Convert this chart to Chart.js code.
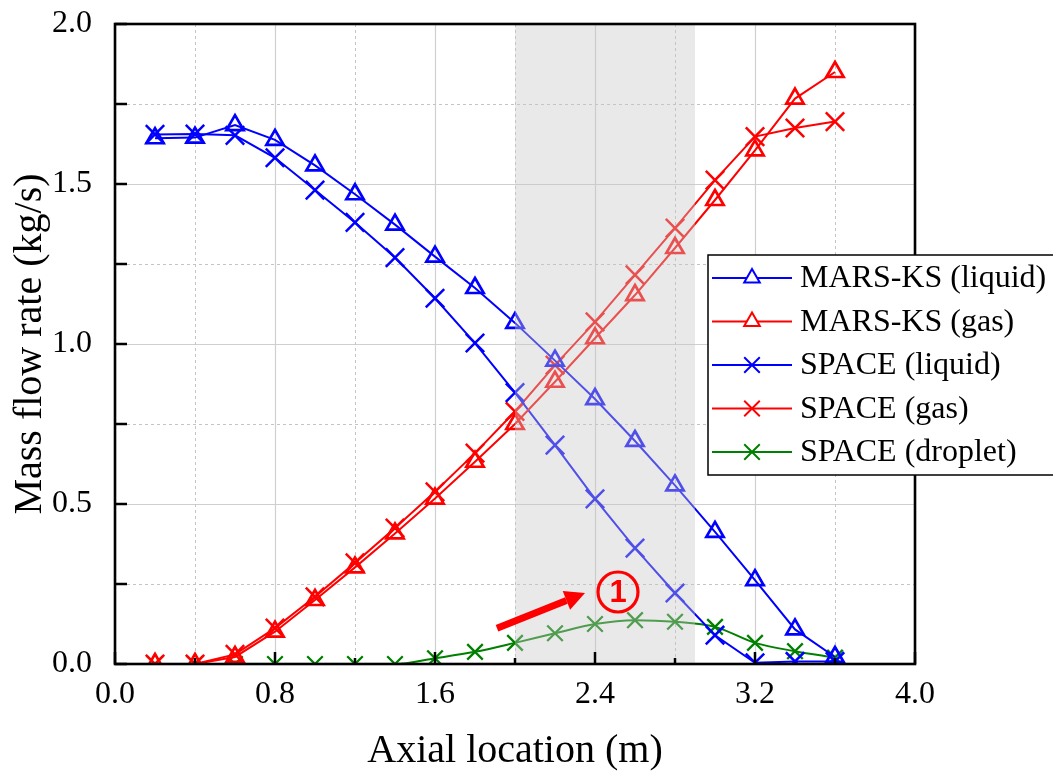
<!DOCTYPE html>
<html>
<head>
<meta charset="utf-8">
<script src="https://cdn.jsdelivr.net/npm/chart.js@4.4.1/dist/chart.umd.min.js"></script>
<style>
  html, body { margin: 0; padding: 0; background: #fff; }
</style>
</head>
<body>
<canvas id="flowChart" width="1053" height="775"></canvas>
<script>
// Datos
const axialLocation = [0.2, 0.4, 0.6, 0.8, 1.0, 1.2, 1.4, 1.6, 1.8, 2.0, 2.2, 2.4, 2.6, 2.8, 3.0, 3.2, 3.4, 3.6];
const marsLiquid   = [1.643, 1.645, 1.684, 1.638, 1.558, 1.468, 1.373, 1.273, 1.175, 1.066, 0.948, 0.828, 0.697, 0.558, 0.413, 0.262, 0.108, 0.022];
const marsGas      = [0.0, 0.0, 0.022, 0.101, 0.200, 0.302, 0.408, 0.517, 0.632, 0.750, 0.882, 1.018, 1.153, 1.300, 1.450, 1.605, 1.767, 1.850];
const spaceLiquid  = [1.655, 1.656, 1.652, 1.582, 1.481, 1.380, 1.270, 1.143, 1.003, 0.848, 0.684, 0.516, 0.362, 0.222, 0.090, 0.004, 0.008, 0.008];
const spaceGas     = [0.0, 0.0, 0.030, 0.112, 0.210, 0.316, 0.425, 0.538, 0.659, 0.789, 0.934, 1.069, 1.216, 1.362, 1.512, 1.648, 1.675, 1.695];
const spaceDroplet = [0.0, 0.0, 0.0, 0.0, 0.0, 0.0, 0.0, 0.018, 0.038, 0.066, 0.096, 0.125, 0.137, 0.132, 0.116, 0.066, 0.040, 0.020];

const xTicks = [0, 0.8, 1.6, 2.4, 3.2, 4.0];
const xMinorTicks = [0.4, 1.2, 2.0, 2.8, 3.6];
const yTicks = [0, 0.5, 1.0, 1.5, 2.0];
const yMinorTicks = [0.25, 0.75, 1.25, 1.75];

const shadeRange = [2.0, 2.9];          // zona sombreada
const arrowFrom = [1.91, 0.112];        // flecha de la anotación
const arrowTo = [2.35, 0.222];
const markLabel = '1';
const markAt = [2.515, 0.225];

const FONT = "'Liberation Serif', 'DejaVu Serif', serif";

function toPoints(ys) {
  return axialLocation.map((x, i) => ({ x: x, y: ys[i] }));
}

function serie(label, ys, color, style, radius, width) {
  return {
    label: label,
    data: toPoints(ys),
    borderColor: color,
    backgroundColor: color,
    pointBackgroundColor: 'rgba(0,0,0,0)',
    pointBorderColor: color,
    pointStyle: style,
    pointRadius: radius,
    pointBorderWidth: width,
    borderWidth: 2,
    tension: 0,
    fill: false
  };
}

const datasets = [
  serie('MARS-KS (liquid)', marsLiquid, '#0000ff', 'triangle', 10, 2.7),
  serie('MARS-KS (gas)', marsGas, '#ff0000', 'triangle', 10, 2.7),
  serie('SPACE (liquid)', spaceLiquid, '#0000ff', 'crossRot', 13, 2.5),
  serie('SPACE (gas)', spaceGas, '#ff0000', 'crossRot', 13, 2.5),
  serie('SPACE (droplet)', spaceDroplet, '#008000', 'crossRot', 11, 2.3)
];
datasets[4].cubicInterpolationMode = 'monotone';

// Rejilla, sombreado, marco, anotación y leyenda
const decor = {
  id: 'decor',
  beforeDatasetsDraw(chart) {
    const { ctx, chartArea: a, scales: { x, y } } = chart;
    ctx.save();
    ctx.strokeStyle = '#cfcfcf';
    ctx.lineWidth = 1.2;
    xTicks.forEach(v => {
      const px = Math.round(x.getPixelForValue(v)) + 0.5;
      ctx.beginPath(); ctx.moveTo(px, a.top); ctx.lineTo(px, a.bottom); ctx.stroke();
    });
    yTicks.forEach(v => {
      const py = Math.round(y.getPixelForValue(v)) + 0.5;
      ctx.beginPath(); ctx.moveTo(a.left, py); ctx.lineTo(a.right, py); ctx.stroke();
    });
    ctx.setLineDash([3, 3]);
    ctx.lineWidth = 1;
    ctx.strokeStyle = '#c4c4c4';
    xMinorTicks.forEach(v => {
      const px = Math.round(x.getPixelForValue(v)) + 0.5;
      ctx.beginPath(); ctx.moveTo(px, a.top); ctx.lineTo(px, a.bottom); ctx.stroke();
    });
    yMinorTicks.forEach(v => {
      const py = Math.round(y.getPixelForValue(v)) + 0.5;
      ctx.beginPath(); ctx.moveTo(a.left, py); ctx.lineTo(a.right, py); ctx.stroke();
    });
    ctx.restore();
  },
  afterDatasetsDraw(chart) {
    const { ctx, chartArea: a, scales: { x, y } } = chart;
    ctx.save();
    // sombreado gris semitransparente encima de las curvas
    const s0 = x.getPixelForValue(shadeRange[0]);
    const s1 = x.getPixelForValue(shadeRange[1]);
    ctx.fillStyle = 'rgba(200,200,200,0.4)';
    ctx.fillRect(s0, a.top, s1 - s0, a.bottom - a.top);

    // marcas interiores de los ejes
    ctx.strokeStyle = '#000';
    ctx.lineWidth = 2.5;
    xTicks.forEach(v => {
      const px = x.getPixelForValue(v);
      ctx.beginPath(); ctx.moveTo(px, a.bottom); ctx.lineTo(px, a.bottom - 12); ctx.stroke();
    });
    xMinorTicks.forEach(v => {
      const px = x.getPixelForValue(v);
      ctx.beginPath(); ctx.moveTo(px, a.bottom); ctx.lineTo(px, a.bottom - 6); ctx.stroke();
    });
    yTicks.concat(yMinorTicks).forEach(v => {
      const py = y.getPixelForValue(v);
      ctx.beginPath(); ctx.moveTo(a.left, py); ctx.lineTo(a.left + 12, py); ctx.stroke();
    });
    // marco
    ctx.lineWidth = 2.6;
    ctx.strokeRect(a.left, a.top, a.right - a.left, a.bottom - a.top);

    // flecha roja
    const fx = x.getPixelForValue(arrowFrom[0]), fy = y.getPixelForValue(arrowFrom[1]);
    const tx = x.getPixelForValue(arrowTo[0]), ty = y.getPixelForValue(arrowTo[1]);
    const ang = Math.atan2(ty - fy, tx - fx);
    const head = 20, half = 10;
    const bx = tx - Math.cos(ang) * head, by = ty - Math.sin(ang) * head;
    ctx.strokeStyle = '#ff0000';
    ctx.fillStyle = '#ff0000';
    ctx.lineWidth = 7;
    ctx.beginPath(); ctx.moveTo(fx, fy); ctx.lineTo(bx, by); ctx.stroke();
    ctx.beginPath();
    ctx.moveTo(tx, ty);
    ctx.lineTo(bx + Math.sin(ang) * half, by - Math.cos(ang) * half);
    ctx.lineTo(bx - Math.sin(ang) * half, by + Math.cos(ang) * half);
    ctx.closePath(); ctx.fill();

    // número en círculo
    const cx = x.getPixelForValue(markAt[0]), cy = y.getPixelForValue(markAt[1]);
    ctx.lineWidth = 3.2;
    ctx.beginPath(); ctx.arc(cx, cy, 20, 0, Math.PI * 2); ctx.stroke();
    ctx.font = "bold 31px 'Liberation Sans', Arial, sans-serif";
    ctx.textAlign = 'center';
    ctx.textBaseline = 'middle';
    ctx.fillText(markLabel, cx, cy + 1);

    // leyenda
    const lx = 708, ly = 255, lw = 360, lh = 220, row = 43.5;
    ctx.fillStyle = '#fff';
    ctx.fillRect(lx, ly, lw, lh);
    ctx.strokeStyle = '#000';
    ctx.lineWidth = 1.5;
    ctx.strokeRect(lx, ly, lw, lh);
    ctx.font = '32px ' + FONT;
    ctx.textAlign = 'left';
    ctx.textBaseline = 'middle';
    chart.data.datasets.forEach((ds, i) => {
      const yy = ly + 23 + i * row;
      ctx.strokeStyle = ds.borderColor;
      ctx.lineWidth = 2;
      ctx.beginPath(); ctx.moveTo(lx + 4, yy); ctx.lineTo(lx + 84, yy); ctx.stroke();
      ctx.fillStyle = '#fff';
      Chart.helpers.drawPoint(ctx, {
        pointStyle: ds.pointStyle,
        radius: ds.pointStyle === 'triangle' ? 9 : 11,
        borderWidth: ds.pointBorderWidth,
        rotation: 0
      }, lx + 44, yy);
      ctx.fillStyle = '#000';
      ctx.fillText(ds.label, lx + 92, yy + 1);
    });
    ctx.restore();
  }
};

const ctx = document.getElementById('flowChart').getContext('2d');
new Chart(ctx, {
  type: 'line',
  data: { datasets: datasets },
  options: {
    responsive: false,
    animation: false,
    layout: { padding: { left: 5, top: 24, right: 138, bottom: 0 } },
    plugins: {
      legend: { display: false },
      tooltip: { enabled: false }
    },
    scales: {
      x: {
        type: 'linear',
        min: 0, max: 4,
        afterBuildTicks: s => { s.ticks = xTicks.map(v => ({ value: v })); },
        afterFit: s => { s.height = 111; s.paddingLeft = 0; s.paddingRight = 0; },
        grid: { display: false },
        border: { display: false },
        ticks: {
          color: '#000',
          padding: 3,
          font: { family: FONT, size: 32 },
          callback: v => v.toFixed(1)
        },
        title: {
          display: true,
          text: 'Axial location (m)',
          color: '#000',
          font: { family: FONT, size: 40 },
          padding: { top: 0, bottom: 0 }
        }
      },
      y: {
        min: 0, max: 2,
        afterBuildTicks: s => { s.ticks = yTicks.map(v => ({ value: v })); },
        afterFit: s => { s.width = 110; s.paddingTop = 0; s.paddingBottom = 0; },
        grid: { display: false },
        border: { display: false },
        ticks: {
          color: '#000',
          padding: 15,
          font: { family: FONT, size: 32 },
          callback: v => v.toFixed(1)
        },
        title: {
          display: true,
          text: 'Mass flow rate (kg/s)',
          color: '#000',
          font: { family: FONT, size: 40 },
          padding: { top: 1, bottom: 0 }
        }
      }
    }
  },
  plugins: [decor]
});
</script>
</body>
</html>
